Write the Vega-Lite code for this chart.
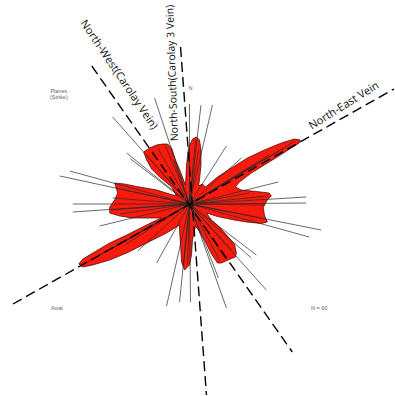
{
  "$schema": "https://vega.github.io/schema/vega-lite/v6.json",
  "width": 395,
  "height": 396,
  "autosize": {"type": "fit", "contains": "padding"},
  "padding": 0,
  "background": "white",
  "config": {"view": {"stroke": null}},
  "datasets": {
    "petal": [
      {"i":1,"x":-4,"y":19},{"i":2,"x":-3,"y":39},{"i":3,"x":-1,"y":56},{"i":4,"x":3,"y":65},{"i":5,"x":7,"y":67},
      {"i":6,"x":10,"y":64},{"i":7,"x":11.5,"y":54},{"i":8,"x":11.5,"y":39},{"i":9,"x":10,"y":24},{"i":10,"x":9,"y":18},
      {"i":11,"x":13,"y":20},{"i":12,"x":16,"y":17},{"i":13,"x":22,"y":22},{"i":14,"x":28,"y":27},{"i":15,"x":42,"y":36},
      {"i":16,"x":58,"y":46},{"i":17,"x":75,"y":54},{"i":18,"x":92,"y":61},{"i":19,"x":105,"y":65},{"i":20,"x":111,"y":64},
      {"i":21,"x":110,"y":61},{"i":22,"x":102,"y":56},{"i":23,"x":88,"y":47},{"i":24,"x":75,"y":39},{"i":25,"x":62,"y":31},
      {"i":26,"x":50,"y":22},{"i":27,"x":46,"y":17},{"i":28,"x":52,"y":14},{"i":29,"x":67,"y":12.5},{"i":30,"x":80,"y":11},
      {"i":31,"x":82,"y":8},{"i":32,"x":78,"y":4},{"i":33,"x":74,"y":-3},{"i":34,"x":75,"y":-11},{"i":35,"x":78,"y":-18},
      {"i":36,"x":72,"y":-19.5},{"i":37,"x":57,"y":-18},{"i":38,"x":45,"y":-16},{"i":39,"x":28,"y":-12.5},{"i":40,"x":17,"y":-9},
      {"i":41,"x":22,"y":-16},{"i":42,"x":30,"y":-23},{"i":43,"x":38,"y":-32},{"i":44,"x":45,"y":-40},{"i":45,"x":47,"y":-49},
      {"i":46,"x":46,"y":-53},{"i":47,"x":41,"y":-55},{"i":48,"x":32,"y":-59},{"i":49,"x":28,"y":-59},{"i":50,"x":22,"y":-50},
      {"i":51,"x":15,"y":-36},{"i":52,"x":9,"y":-26},{"i":53,"x":6,"y":-22},{"i":54,"x":3,"y":-36},{"i":55,"x":2,"y":-51},
      {"i":56,"x":0,"y":-61},{"i":57,"x":-5,"y":-66},{"i":58,"x":-8,"y":-58},{"i":59,"x":-9,"y":-41},{"i":60,"x":-10,"y":-26},
      {"i":61,"x":-10,"y":-21},{"i":62,"x":-23,"y":-29},{"i":63,"x":-43,"y":-39},{"i":64,"x":-63,"y":-49},{"i":65,"x":-80,"y":-56},
      {"i":66,"x":-97,"y":-61},{"i":67,"x":-107,"y":-63},{"i":68,"x":-111,"y":-60},{"i":69,"x":-107,"y":-55},{"i":70,"x":-97,"y":-49},
      {"i":71,"x":-80,"y":-39},{"i":72,"x":-63,"y":-31},{"i":73,"x":-47,"y":-23},{"i":74,"x":-35,"y":-17},{"i":75,"x":-28,"y":-14},
      {"i":76,"x":-40,"y":-14},{"i":77,"x":-57,"y":-14},{"i":78,"x":-70,"y":-12},{"i":79,"x":-80,"y":-9},{"i":80,"x":-80,"y":-3},
      {"i":81,"x":-75,"y":4},{"i":82,"x":-72,"y":11},{"i":83,"x":-75,"y":21},{"i":84,"x":-65,"y":20},{"i":85,"x":-53,"y":17.5},
      {"i":86,"x":-33,"y":14},{"i":87,"x":-20,"y":10},{"i":88,"x":-13,"y":8},{"i":89,"x":-18,"y":17},{"i":90,"x":-30,"y":27},
      {"i":91,"x":-38,"y":35},{"i":92,"x":-43,"y":44},{"i":93,"x":-46,"y":52},{"i":94,"x":-40,"y":56},{"i":95,"x":-33,"y":59},
      {"i":96,"x":-27,"y":60},{"i":97,"x":-22,"y":60},{"i":98,"x":-18,"y":56},{"i":99,"x":-14,"y":44},{"i":100,"x":-9,"y":32},
      {"i":101,"x":-6,"y":24}
    ],
    "rays": [
      {"x":-35,"y":106},{"x":-77,"y":87},{"x":-63,"y":51},{"x":-59,"y":45},{"x":-130,"y":28},{"x":-120,"y":33},
      {"x":0,"y":100},{"x":11.5,"y":99},{"x":23,"y":99},{"x":37,"y":58},{"x":52,"y":46},{"x":89,"y":22},
      {"x":117,"y":7},{"x":117,"y":1},{"x":132,"y":-26},{"x":120,"y":-33},{"x":67,"y":-51},{"x":62,"y":-54},
      {"x":77,"y":-86},{"x":37,"y":-104},{"x":29,"y":-74},{"x":1,"y":-98},{"x":-10,"y":-98},{"x":-23,"y":-102},
      {"x":-33,"y":-59},{"x":-52,"y":-47},{"x":-90,"y":-22},{"x":-117,"y":-8},{"x":-117,"y":0},
      {"x":106,"y":63},{"x":95,"y":56},{"x":80,"y":49},{"x":65,"y":39},
      {"x":-106,"y":-60},{"x":-95,"y":-54},{"x":-80,"y":-46},{"x":-65,"y":-41},
      {"x":-74,"y":16},{"x":-77,"y":6},{"x":-78,"y":-6},{"x":-70,"y":-10},
      {"x":78,"y":8},{"x":76,"y":-1},{"x":72,"y":-14},{"x":60,"y":11},
      {"x":-43,"y":49},{"x":-32,"y":56},{"x":-24,"y":58},{"x":-16,"y":44},
      {"x":42,"y":-46},{"x":36,"y":-55},{"x":30,"y":-56},
      {"x":6,"y":64},{"x":9,"y":54},{"x":-6,"y":-62},{"x":-2,"y":-60}
    ],
    "dashes": [
      {"vein":"North-East","x":-177,"y":-100,"x2":205,"y2":115},
      {"vein":"North-West","x":-98,"y":138,"x2":103,"y2":-148},
      {"vein":"North-South","x":-9,"y":157,"x2":17,"y2":-191}
    ]
  },
  "layer": [
    {
      "data": {"name": "petal"},
      "mark": {"type": "line", "interpolate": "linear-closed", "fill": "#fc1a0c", "stroke": "#3a0000", "strokeWidth": 0.7},
      "encoding": {
        "x": {"field": "x", "type": "quantitative", "scale": {"domain": [-190, 205], "nice": false, "zero": false}, "axis": null},
        "y": {"field": "y", "type": "quantitative", "scale": {"domain": [-192, 204], "nice": false, "zero": false}, "axis": null},
        "order": {"field": "i", "type": "quantitative"}
      }
    },
    {
      "data": {"name": "rays"},
      "mark": {"type": "rule", "stroke": "#2a2a2a", "strokeWidth": 0.7},
      "encoding": {
        "x": {"field": "x", "type": "quantitative", "scale": {"domain": [-190, 205], "nice": false, "zero": false}, "axis": null},
        "y": {"field": "y", "type": "quantitative", "scale": {"domain": [-192, 204], "nice": false, "zero": false}, "axis": null},
        "x2": {"datum": 0},
        "y2": {"datum": 0}
      }
    },
    {
      "data": {"name": "dashes"},
      "mark": {"type": "rule", "stroke": "#000000", "strokeWidth": 1.4, "strokeDash": [10, 5]},
      "encoding": {
        "x": {"field": "x", "type": "quantitative", "scale": {"domain": [-190, 205], "nice": false, "zero": false}, "axis": null},
        "y": {"field": "y", "type": "quantitative", "scale": {"domain": [-192, 204], "nice": false, "zero": false}, "axis": null},
        "x2": {"field": "x2"},
        "y2": {"field": "y2"}
      }
    },
    {
      "data": {"values": [{"label": "North-East Vein", "x": 155, "y": 98}]},
      "mark": {"type": "text", "angle": -32, "fontSize": 11, "font": "Open Sans", "color": "#111111", "baseline": "middle", "align": "center"},
      "encoding": {
        "x": {"field": "x", "type": "quantitative", "scale": {"domain": [-190, 205], "nice": false, "zero": false}, "axis": null},
        "y": {"field": "y", "type": "quantitative", "scale": {"domain": [-192, 204], "nice": false, "zero": false}, "axis": null},
        "text": {"field": "label"}
      }
    },
    {
      "data": {"values": [{"label": "North-West(Carolay Vein)", "x": -71, "y": 129}]},
      "mark": {"type": "text", "angle": 56, "fontSize": 11, "font": "Open Sans", "color": "#111111", "baseline": "middle", "align": "center"},
      "encoding": {
        "x": {"field": "x", "type": "quantitative", "scale": {"domain": [-190, 205], "nice": false, "zero": false}, "axis": null},
        "y": {"field": "y", "type": "quantitative", "scale": {"domain": [-192, 204], "nice": false, "zero": false}, "axis": null},
        "text": {"field": "label"}
      }
    },
    {
      "data": {"values": [{"label": "North-South(Carolay  3 Vein)", "x": -17, "y": 131}]},
      "mark": {"type": "text", "angle": -92, "fontSize": 10.5, "font": "Open Sans", "color": "#111111", "baseline": "middle", "align": "center"},
      "encoding": {
        "x": {"field": "x", "type": "quantitative", "scale": {"domain": [-190, 205], "nice": false, "zero": false}, "axis": null},
        "y": {"field": "y", "type": "quantitative", "scale": {"domain": [-192, 204], "nice": false, "zero": false}, "axis": null},
        "text": {"field": "label"}
      }
    },
    {
      "data": {"values": [
        {"label": "N", "x": 1, "y": 116},
        {"label": "Planes", "x": -131, "y": 113},
        {"label": "(Strike)", "x": -131, "y": 107},
        {"label": "Axial", "x": -133, "y": -104},
        {"label": "N = 60", "x": 130, "y": -104}
      ]},
      "mark": {"type": "text", "fontSize": 5.5, "font": "Liberation Sans", "color": "#666666", "baseline": "middle", "align": "center"},
      "encoding": {
        "x": {"field": "x", "type": "quantitative", "scale": {"domain": [-190, 205], "nice": false, "zero": false}, "axis": null},
        "y": {"field": "y", "type": "quantitative", "scale": {"domain": [-192, 204], "nice": false, "zero": false}, "axis": null},
        "text": {"field": "label"}
      }
    }
  ]
}
